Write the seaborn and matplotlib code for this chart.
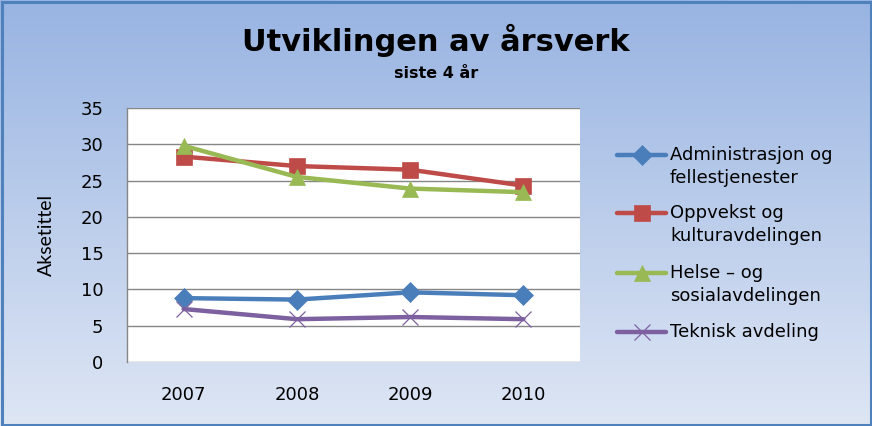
import numpy as np
import pandas as pd
import matplotlib
matplotlib.use("Agg")
import matplotlib.pyplot as plt
from matplotlib.patches import Rectangle
from matplotlib.lines import Line2D
import seaborn as sns

years = ["2007", "2008", "2009", "2010"]
series_names = ["Administrasjon og fellestjenester", "Oppvekst og kulturavdelingen",
                "Helse \u2013 og sosialavdelingen", "Teknisk avdeling"]
legend_lines = [["Administrasjon og", "fellestjenester"], ["Oppvekst og", "kulturavdelingen"],
                ["Helse \u2013 og", "sosialavdelingen"], ["Teknisk avdeling"]]
admin = [8.8, 8.6, 9.6, 9.2]
oppvekst = [28.3, 27.0, 26.5, 24.3]
helse = [29.8, 25.5, 23.9, 23.4]
teknisk = [7.3, 5.9, 6.2, 5.9]
yticks = [0, 5, 10, 15, 20, 25, 30, 35]

colors = ["#4A7EBB", "#BE4B48", "#98B954", "#7D60A0"]
markers = ["D", "s", "^", "x"]
msizes = [10, 12, 12, 12]

rows = []
for name, vals in zip(series_names, [admin, oppvekst, helse, teknisk]):
    for y, v in zip(years, vals):
        rows.append({"year": y, "value": v, "series": name})
df = pd.DataFrame(rows)

sns.set_theme(style="white")
plt.rcParams["font.family"] = ["DejaVu Sans"]
plt.rcParams["text.color"] = "black"

W, H = 872, 426
fig = plt.figure(figsize=(W / 100, H / 100), dpi=100)

# background gradient
bg = fig.add_axes([0, 0, 1, 1], zorder=-10)
top = np.array([152, 180, 226]) / 255
bot = np.array([222, 230, 244]) / 255
t = np.linspace(0, 1, 256)[:, None]
grad = top[None, :] * (1 - t) + bot[None, :] * t
grad = np.repeat(grad[:, None, :], 2, axis=1)
bg.imshow(grad, aspect="auto", extent=[0, 1, 0, 1], origin="upper")
bg.set_xlim(0, 1)
bg.set_ylim(0, 1)
bg.axis("off")
bg.add_patch(Rectangle((1.5 / W, 1.5 / H), 1 - 3 / W, 1 - 3 / H, fill=False,
                       edgecolor="#4F81BD", linewidth=2.2, transform=bg.transAxes))

# main axes
left, right, ytop, ybot = 127, 580, 108, 362
ax = fig.add_axes([left / W, 1 - ybot / H, (right - left) / W, (ybot - ytop) / H])
ax.set_facecolor("white")

for name, c, m, ms in zip(series_names, colors, markers, msizes):
    sub = df[df["series"] == name]
    n0 = len(ax.lines)
    sns.lineplot(data=sub, x="year", y="value", color=c, marker=m,
                 linewidth=3.2, markersize=ms, ax=ax, sort=False)
    line = ax.lines[n0]
    line.set_markeredgecolor(c)
    line.set_markerfacecolor(c)
    line.set_markeredgewidth(0.9 if m == "x" else 0.5)

ax.set_xlim(-0.5, 3.5)
ax.set_ylim(0, 35)
ax.set_yticks(yticks)
ax.set_yticklabels([str(v) for v in yticks])
ax.yaxis.grid(True, color="#868686", linewidth=1.0)
ax.xaxis.grid(False)
for s in ["top", "right", "bottom"]:
    ax.spines[s].set_visible(False)
ax.spines["left"].set_color("#868686")
ax.spines["left"].set_linewidth(1.0)
ax.tick_params(axis="both", length=0, labelsize=13, colors="black")
ax.tick_params(axis="y", pad=17)
ax.tick_params(axis="x", pad=17)
ax.set_xlabel("")
ax.set_ylabel("Aksetittel", family=["Lato", "DejaVu Sans"], fontsize=14,
              labelpad=0, color="black")
ax.yaxis.set_label_coords(-72 / (right - left), 0.5)

fig.text(0.5, 1 - 40 / H, "Utviklingen av årsverk", ha="center", va="center",
         fontsize=22, fontweight="bold", color="black")
fig.text(0.5, 1 - 74 / H, "siste 4 år", ha="center", va="center",
         fontsize=11.5, fontweight="bold", color="black")

# legend (handle aligned with first text line, as in the reference)
entry_y = [155, 213, 273, 332]
line_gap = 23
hx0, hx1, tx = 617, 666, 670
for lines, c, m, ms, y in zip(legend_lines, colors, markers, msizes, entry_y):
    fig.add_artist(Line2D([hx0 / W, hx1 / W], [1 - y / H, 1 - y / H], color=c,
                          linewidth=3.2, transform=fig.transFigure))
    fig.add_artist(Line2D([(hx0 + hx1) / 2 / W], [1 - y / H], color=c, marker=m,
                          markersize=ms, markerfacecolor=c, markeredgecolor=c,
                          markeredgewidth=0.9 if m == "x" else 0.5,
                          linestyle="none", transform=fig.transFigure))
    for k, txt in enumerate(lines):
        fig.text(tx / W, 1 - (y + k * line_gap) / H, txt, ha="left", va="center",
                 fontsize=13, color="black")

fig.savefig("out.png", dpi=100)
